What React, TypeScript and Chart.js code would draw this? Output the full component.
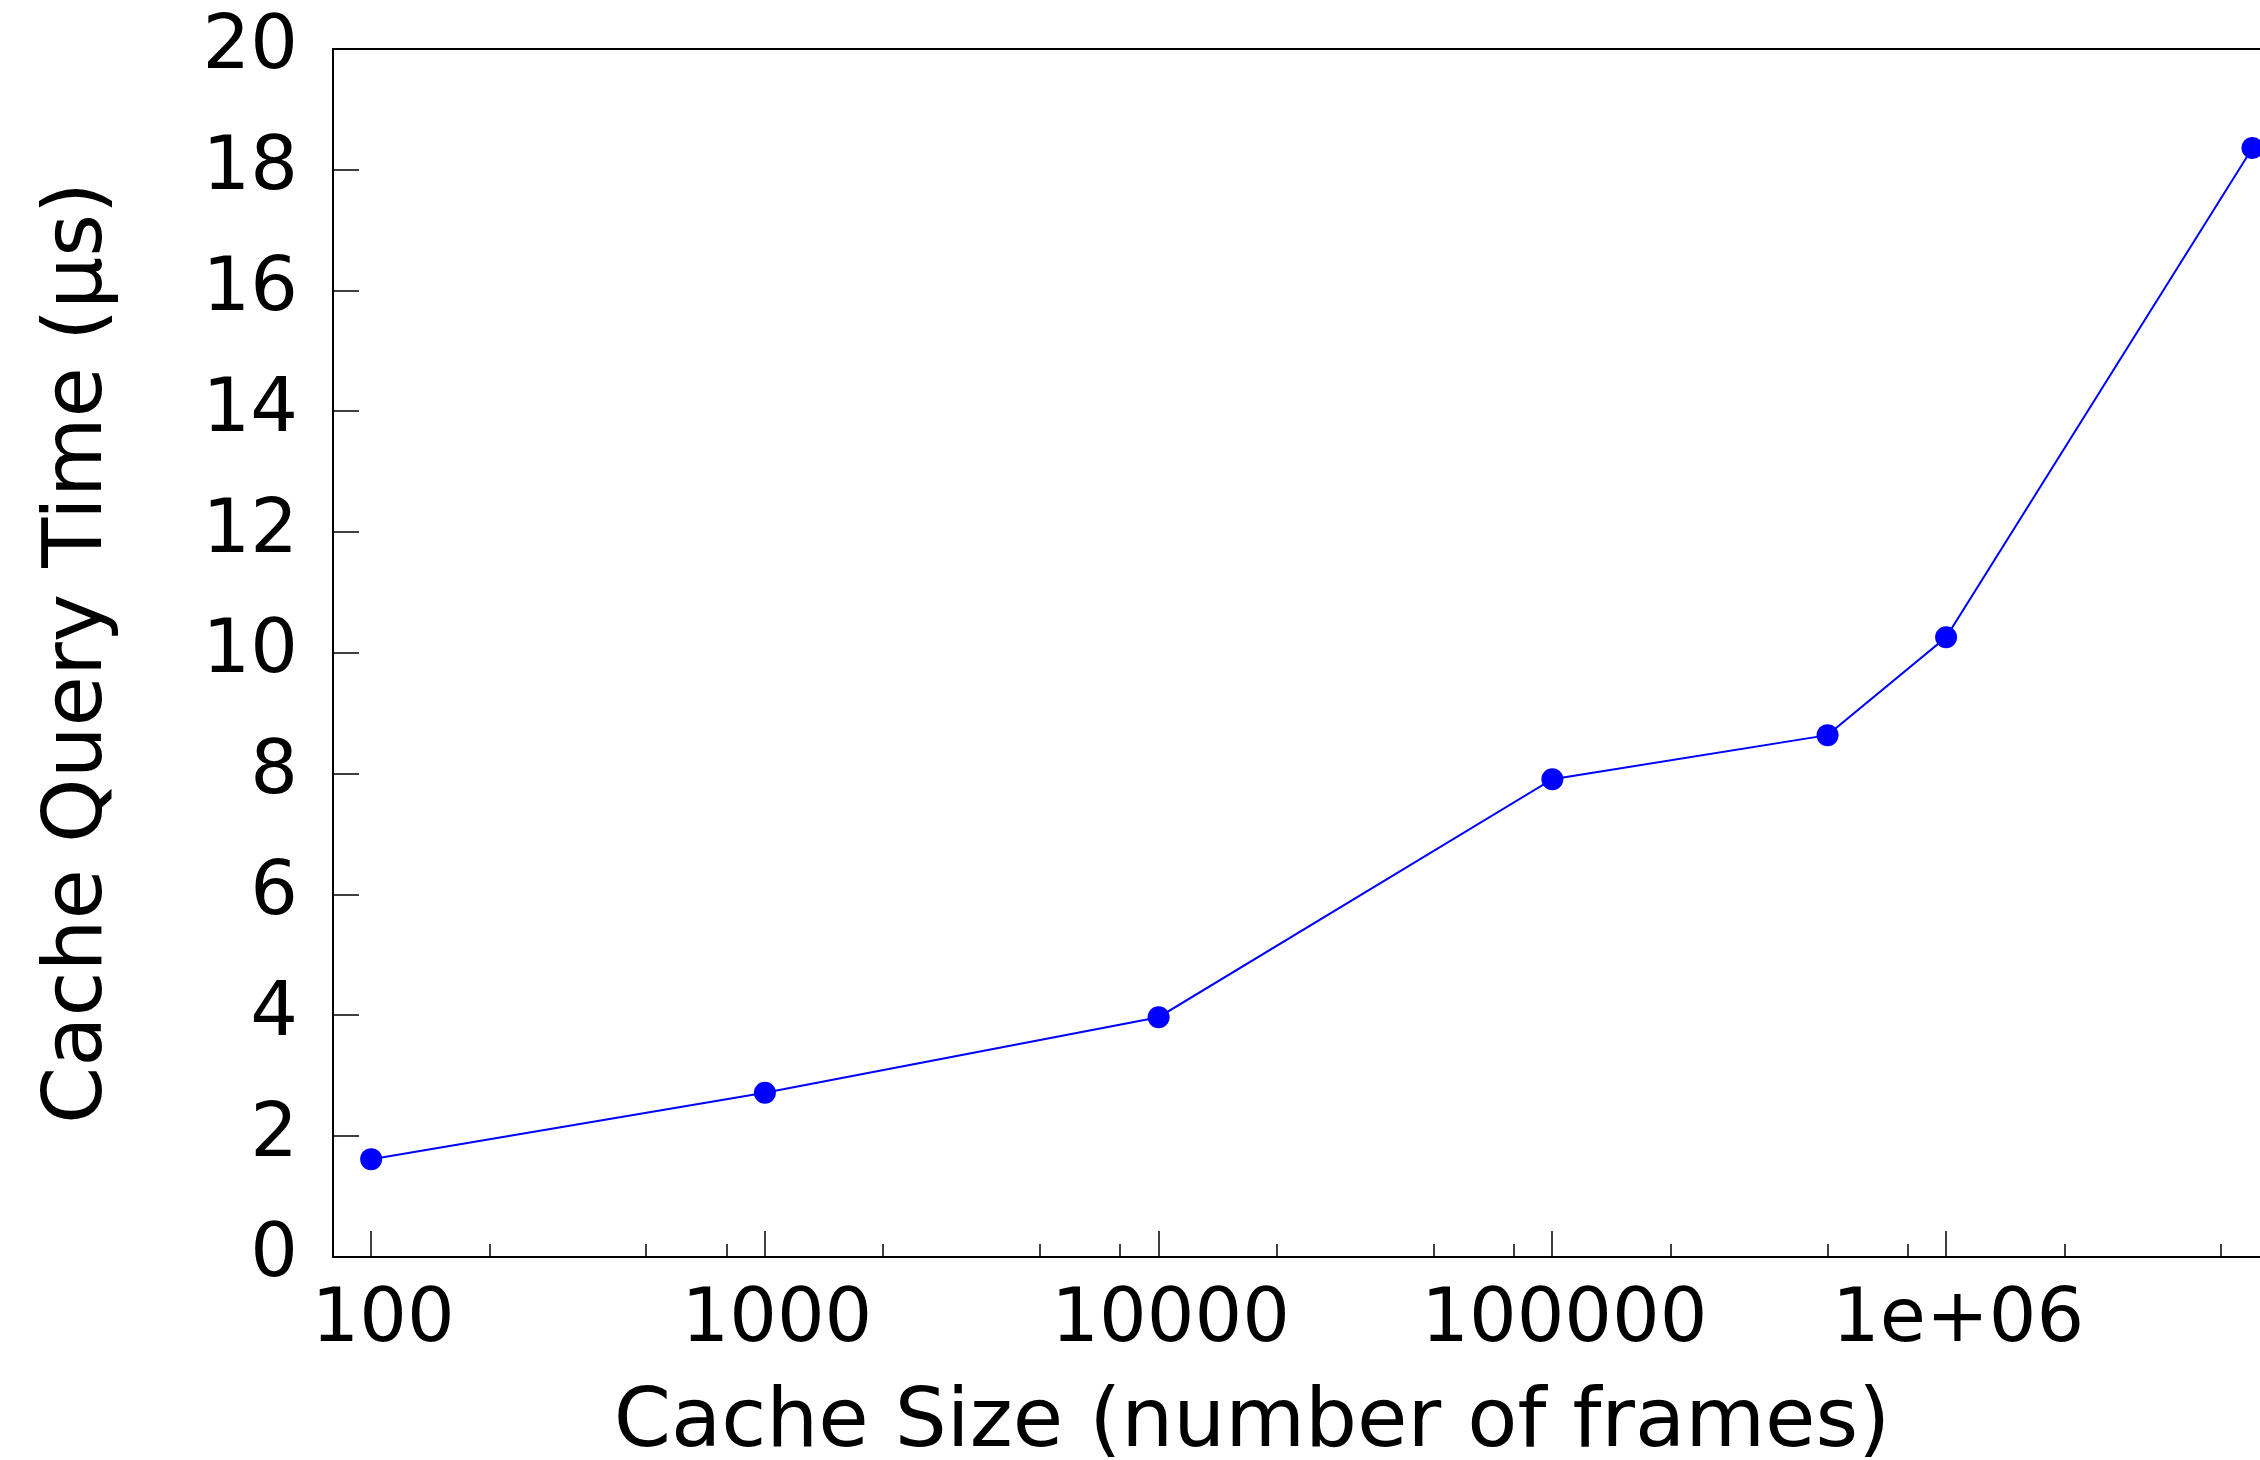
import { useEffect, useRef } from "react";
import { Chart, registerables } from "chart.js";

Chart.register(...registerables);

// Measured cache query time per cache size
const CACHE_SIZES = [100, 1000, 10000, 100000, 500000, 1000000, 6000000];
const QUERY_TIME_US = [1.62, 2.72, 3.97, 7.91, 8.64, 10.26, 18.36];

// Axis ticks and labels
const X_TICKS = [100, 1000, 10000, 100000, 1000000];
const X_TICK_LABELS = ["100", "1000", "10000", "100000", "1e+06"];
const X_MINOR_TICKS = [
  200, 500, 800, 2000, 5000, 8000, 20000, 50000, 80000,
  200000, 500000, 800000, 2000000, 5000000,
];
const Y_TICKS = [0, 2, 4, 6, 8, 10, 12, 14, 16, 18, 20];

const X_TITLE = "Cache Size (number of frames)";
const Y_TITLE = "Cache Query Time (µs)";

const WIDTH = 2260;
const HEIGHT = 1460;
const FONT = '"DejaVu Sans", sans-serif';
const PLOT_LEFT = 333;
const PLOT_TOP = 49;
const PLOT_BOTTOM = 1257;

// Gnuplot-style frame: border lines, inward tick marks and axis titles
const framePlugin = {
  id: "frame",
  beforeDatasetsDraw(chart: any) {
    const { ctx, chartArea: a, scales } = chart;
    ctx.save();
    ctx.strokeStyle = "#000";
    ctx.lineWidth = 2;
    ctx.beginPath();
    ctx.moveTo(a.right + 2, a.top);
    ctx.lineTo(a.left, a.top);
    ctx.lineTo(a.left, a.bottom);
    ctx.lineTo(a.right + 2, a.bottom);
    ctx.stroke();

    ctx.lineWidth = 1.5;
    ctx.beginPath();
    for (const v of X_TICKS) {
      const px = Math.round(scales.x.getPixelForValue(v));
      ctx.moveTo(px, a.bottom);
      ctx.lineTo(px, a.bottom - 26);
    }
    for (const v of X_MINOR_TICKS) {
      const px = Math.round(scales.x.getPixelForValue(v));
      ctx.moveTo(px, a.bottom);
      ctx.lineTo(px, a.bottom - 13);
    }
    for (const v of Y_TICKS) {
      const py = Math.round(scales.y.getPixelForValue(v));
      ctx.moveTo(a.left, py);
      ctx.lineTo(a.left + 26, py);
    }
    ctx.stroke();

    ctx.fillStyle = "#000";
    ctx.font = `82px ${FONT}`;
    ctx.textAlign = "center";
    ctx.textBaseline = "alphabetic";
    ctx.fillText(X_TITLE, 1252, 1446);

    ctx.translate(101, (a.top + a.bottom) / 2);
    ctx.rotate(-Math.PI / 2);
    ctx.fillText(Y_TITLE, 0, 0);
    ctx.restore();
  },
};

export default function App() {
  const canvasRef = useRef<HTMLCanvasElement | null>(null);

  useEffect(() => {
    const canvas = canvasRef.current;
    if (!canvas) return;

    const chart = new Chart(canvas, {
      type: "line",
      data: {
        datasets: [
          {
            data: CACHE_SIZES.map((x, i) => ({ x, y: QUERY_TIME_US[i] })),
            borderColor: "#0000ff",
            borderWidth: 2,
            backgroundColor: "#0000ff",
            pointRadius: 11,
            pointHoverRadius: 11,
            pointBackgroundColor: "#0000ff",
            pointBorderWidth: 0,
            tension: 0,
            clip: false as any,
          },
        ],
      },
      options: {
        responsive: false,
        animation: false,
        devicePixelRatio: 1,
        events: [],
        layout: {
          autoPadding: false,
          padding: { top: PLOT_TOP, left: 0, right: 0, bottom: 0 },
        },
        plugins: {
          legend: { display: false },
          tooltip: { enabled: false },
        },
        scales: {
          x: {
            type: "logarithmic",
            min: 80,
            max: 6.27e6,
            grid: { display: false, drawTicks: false },
            border: { display: false },
            afterBuildTicks: (s: any) => {
              s.ticks = X_TICKS.map((v) => ({ value: v }));
            },
            afterFit: (s: any) => {
              s.height = HEIGHT - PLOT_BOTTOM;
              s.paddingLeft = 0;
              s.paddingRight = 0;
            },
            ticks: {
              color: "#000",
              font: { family: FONT, size: 75 },
              padding: 20,
              labelOffset: 12,
              maxRotation: 0,
              minRotation: 0,
              autoSkip: false,
              callback: (v: any) => {
                const i = X_TICKS.indexOf(Number(v));
                return i >= 0 ? X_TICK_LABELS[i] : "";
              },
            },
          },
          y: {
            type: "linear",
            min: 0,
            max: 20,
            grid: { display: false, drawTicks: false },
            border: { display: false },
            afterBuildTicks: (s: any) => {
              s.ticks = Y_TICKS.map((v) => ({ value: v }));
            },
            afterFit: (s: any) => {
              s.width = PLOT_LEFT;
              s.paddingTop = 0;
              s.paddingBottom = 0;
            },
            ticks: {
              color: "#000",
              font: { family: FONT, size: 75 },
              padding: 35,
            },
          },
        },
      },
      plugins: [framePlugin],
    });

    return () => chart.destroy();
  }, []);

  return (
    <canvas
      ref={canvasRef}
      width={WIDTH}
      height={HEIGHT}
      style={{
        position: "absolute",
        left: 0,
        top: 0,
        width: WIDTH,
        height: HEIGHT,
        display: "block",
        background: "#fff",
      }}
    />
  );
}
